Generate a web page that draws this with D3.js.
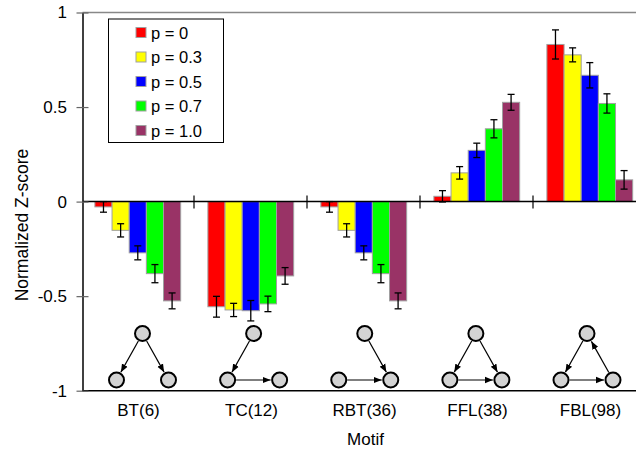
<!DOCTYPE html>
<html>
<head>
<meta charset="utf-8">
<script src="https://cdn.jsdelivr.net/npm/d3@7/dist/d3.min.js"></script>
<style>
  html, body { margin: 0; padding: 0; background: #fff; }
  svg { display: block; font-family: "Liberation Sans", Arial, sans-serif; }
</style>
</head>
<body>
<svg id="chart" width="636" height="452"></svg>
<script>
// ---- data ----
const motifs = ["BT(6)", "TC(12)", "RBT(36)", "FFL(38)", "FBL(98)"];
const seriesNames = ["p = 0", "p = 0.3", "p = 0.5", "p = 0.7", "p = 1.0"];
const seriesColors = ["#ff0000", "#ffff00", "#0000ff", "#00ff00", "#993366"];
// values per series (one entry per motif)
const valP0  = [-0.028, -0.556, -0.028, 0.028, 0.831];
const valP03 = [-0.152, -0.573, -0.152, 0.152, 0.776];
const valP05 = [-0.271, -0.577, -0.271, 0.271, 0.668];
const valP07 = [-0.381, -0.541, -0.381, 0.385, 0.519];
const valP10 = [-0.525, -0.393, -0.525, 0.525, 0.115];
const errP0  = [0.028, 0.055, 0.028, 0.030, 0.077];
const errP03 = [0.035, 0.035, 0.035, 0.033, 0.037];
const errP05 = [0.037, 0.054, 0.037, 0.038, 0.067];
const errP07 = [0.048, 0.041, 0.048, 0.048, 0.051];
const errP10 = [0.042, 0.044, 0.042, 0.042, 0.049];
const yTicks = [-1, -0.5, 0, 0.5, 1];
const yTickLabels = ["-1", "-0.5", "0", "0.5", "1"];
// motif graph edges: nodes t=top, l=left, r=right
const motifEdges = [
  [["t","l"],["t","r"]],
  [["t","l"],["l","r"]],
  [["t","r"],["l","r"]],
  [["t","l"],["t","r"],["l","r"]],
  [["t","l"],["l","r"],["r","t"]]
];

(function () {
const values = [valP0, valP03, valP05, valP07, valP10];
const errors = [errP0, errP03, errP05, errP07, errP10];

const svg = d3.select("#chart");
const pL = 82.5, pR = 646, pT = 12.5, pB = 390.7;

const x0 = d3.scaleBand().domain(motifs).range([pL - 1.5, pR]).paddingInner(0).paddingOuter(0);
const x1 = d3.scaleBand().domain(seriesNames)
  .range([x0.bandwidth() * 0.123, x0.bandwidth() * 0.882]).padding(0);
const y = d3.scaleLinear().domain([-1, 1]).range([pB, pT]);

const defs = svg.append("defs");
defs.append("marker").attr("id", "arrow").attr("viewBox", "0 0 10 10")
  .attr("refX", 10).attr("refY", 5).attr("markerWidth", 8).attr("markerHeight", 8)
  .attr("markerUnits", "userSpaceOnUse").attr("orient", "auto")
  .append("path").attr("d", "M0,1 L10,5 L0,9 Z").attr("fill", "#000");

// frame: top gray line
svg.append("line").attr("x1", pL).attr("x2", pR).attr("y1", pT).attr("y2", pT)
  .attr("stroke", "#888").attr("stroke-width", 1.5);

// bars
const rows = [];
motifs.forEach((m, i) => seriesNames.forEach((s, j) => {
  rows.push({ motif: m, series: s, j, v: values[j][i], e: errors[j][i] });
}));

const g = svg.append("g");
g.selectAll("rect.bar").data(rows).join("rect").attr("class", "bar")
  .attr("x", d => x0(d.motif) + x1(d.series))
  .attr("width", x1.bandwidth())
  .attr("y", d => Math.min(y(d.v), y(0)))
  .attr("height", d => Math.abs(y(d.v) - y(0)))
  .attr("fill", d => seriesColors[d.j])
  .attr("stroke", "#a0a0a0").attr("stroke-width", 1);

// error bars
const eg = svg.append("g").attr("stroke", "#000").attr("stroke-width", 1.3);
rows.forEach(d => {
  const cx = x0(d.motif) + x1(d.series) + x1.bandwidth() / 2;
  const y1 = y(d.v + d.e), y2 = y(d.v - d.e);
  eg.append("line").attr("x1", cx).attr("x2", cx).attr("y1", y1).attr("y2", y2);
  eg.append("line").attr("x1", cx - 3.5).attr("x2", cx + 3.5).attr("y1", y1).attr("y2", y1);
  eg.append("line").attr("x1", cx - 3.5).attr("x2", cx + 3.5).attr("y1", y2).attr("y2", y2);
});

// zero line
svg.append("line").attr("x1", pL).attr("x2", pR).attr("y1", y(0)).attr("y2", y(0))
  .attr("stroke", "#000").attr("stroke-width", 1.5);
// category separator ticks on zero line
motifs.slice(1).forEach(m => {
  svg.append("line").attr("x1", x0(m)).attr("x2", x0(m))
    .attr("y1", y(0) - 6).attr("y2", y(0) + 7).attr("stroke", "#000").attr("stroke-width", 1.2);
});

// bottom axis line
svg.append("line").attr("x1", pL).attr("x2", pR).attr("y1", pB).attr("y2", pB)
  .attr("stroke", "#000").attr("stroke-width", 1.5);

// y axis
const yAxis = d3.axisLeft(y).tickValues(yTicks)
  .tickFormat((d, i) => yTickLabels[i]).tickSizeInner(6).tickSizeOuter(0).tickPadding(10);
const ya = svg.append("g").attr("transform", `translate(${pL},0)`).call(yAxis);
ya.select(".domain").attr("stroke", "#000").attr("stroke-width", 1.5);
ya.selectAll(".tick line").attr("x1", -6).attr("x2", 6).attr("stroke", "#666").attr("stroke-width", 1.2);
ya.selectAll(".tick text").attr("font-size", 17).attr("fill", "#000")
  .attr("font-family", "Liberation Sans, Arial, sans-serif").attr("x", -15.5);

// category labels
svg.append("g").selectAll("text").data(motifs).join("text")
  .attr("x", d => x0(d) + x0.bandwidth() / 2 + 1).attr("y", 415.5)
  .attr("text-anchor", "middle").attr("font-size", 17).text(d => d);

// axis titles
svg.append("text").attr("x", 365.5).attr("y", 445).attr("text-anchor", "middle")
  .attr("font-size", 17).text("Motif");
svg.append("text").attr("transform", "translate(28,225) rotate(-90)")
  .attr("text-anchor", "middle").attr("font-size", 17.5).text("Normalized Z-score");

// motif diagrams
const dx = d3.scaleLinear().domain([0, motifs.length - 1]).range([142.5, 587]);
const nodeR = 7.5;
motifEdges.forEach((edges, i) => {
  const c = dx(i);
  const pos = { t: [c, 333.5], l: [c - 26, 380], r: [c + 26, 380] };
  const mg = svg.append("g");
  edges.forEach(([a, b]) => {
    const [xa, ya_] = pos[a], [xb, yb] = pos[b];
    const len = Math.hypot(xb - xa, yb - ya_);
    const ux = (xb - xa) / len, uy = (yb - ya_) / len;
    const s = nodeR + 1, e = nodeR + 1.5;
    mg.append("line")
      .attr("x1", xa + ux * s).attr("y1", ya_ + uy * s)
      .attr("x2", xb - ux * e).attr("y2", yb - uy * e)
      .attr("stroke", "#000").attr("stroke-width", 1.2).attr("marker-end", "url(#arrow)");
  });
  Object.values(pos).forEach(([px, py]) => {
    mg.append("circle").attr("cx", px).attr("cy", py).attr("r", nodeR)
      .attr("fill", "#d3d3d3").attr("stroke", "#000").attr("stroke-width", 2);
  });
});

// legend
const lg = svg.append("g");
lg.append("rect").attr("x", 108.5).attr("y", 19).attr("width", 115).attr("height", 123.5)
  .attr("fill", "#fff").attr("stroke", "#000").attr("stroke-width", 1);
seriesNames.forEach((s, j) => {
  const cy = 32.5 + j * 24.5;
  lg.append("rect").attr("x", 136).attr("y", cy - 5).attr("width", 10).attr("height", 10)
    .attr("fill", seriesColors[j]).attr("stroke", "#a0a0a0").attr("stroke-width", 1);
  lg.append("text").attr("x", 151).attr("y", cy + 6).attr("font-size", 16.5).text(s);
});
})();
</script>
</body>
</html>
